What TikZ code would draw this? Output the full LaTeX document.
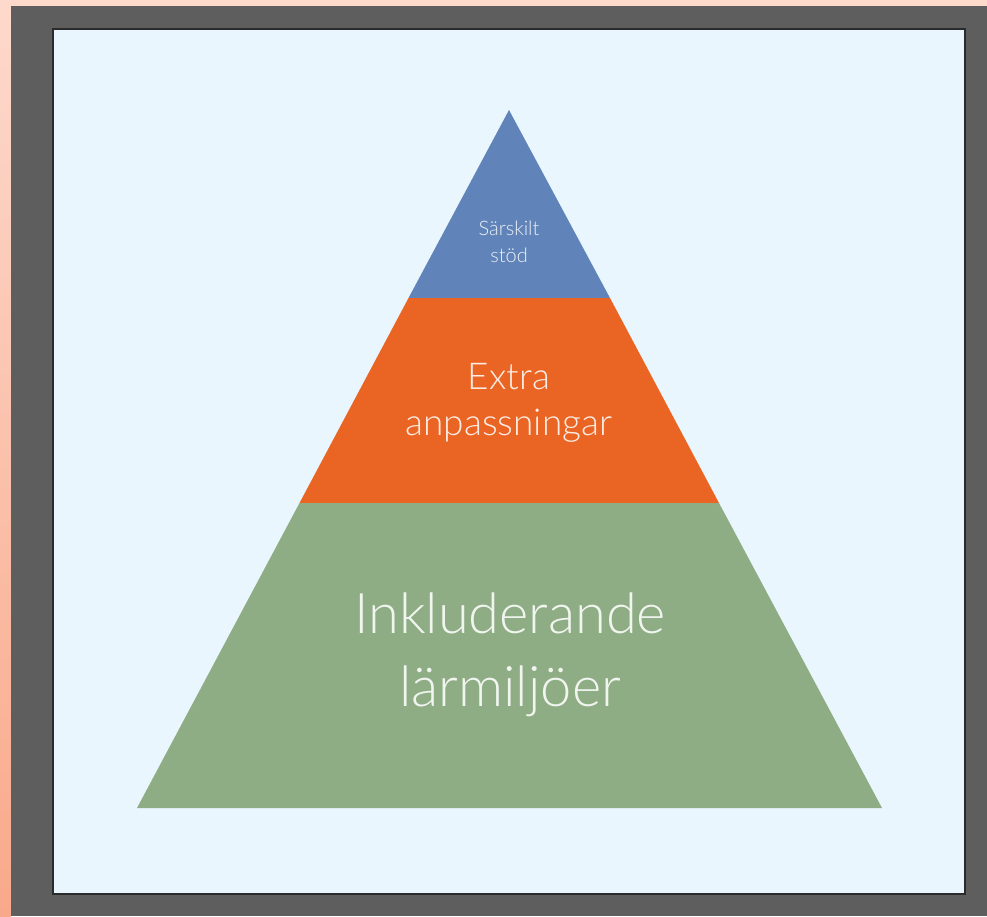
\documentclass[tikz,border=0pt]{standalone}
\usepackage{fontspec}
\setmainfont{Lato}[UprightFont=* Light]
\definecolor{salmonA}{HTML}{FDD9CC}
\definecolor{salmonB}{HTML}{F9A98B}
\definecolor{frame}{HTML}{5E5E5E}
\definecolor{panel}{HTML}{EAF6FE}
\definecolor{panelline}{HTML}{2B2B2B}
\definecolor{layerblue}{HTML}{6084B9}
\definecolor{layerorange}{HTML}{EA6524}
\definecolor{layergreen}{HTML}{8FAD84}
\begin{document}
\begin{tikzpicture}[x=1pt,y=-1pt,
  label/.style={text=white, text opacity=0.88, align=center, inner sep=0pt},
  layer/.style={draw=none}]
\useasboundingbox (0,0) rectangle (987,916);
% backdrop
\fill[salmonA] (0,0) rectangle (987,916);
\shade[top color=salmonA, bottom color=salmonB] (0,0) rectangle (11,916);
\fill[frame] (11,6) rectangle (987,916);
\fill[panel] (53,29) rectangle (965,894);
\draw[panelline, line width=2pt] (53,29) rectangle (965,894);
% pyramid coordinates
\coordinate (apex) at (509,110);
\coordinate (b1l) at (408.5,298);
\coordinate (b1r) at (610,298);
\coordinate (b2l) at (299.5,503);
\coordinate (b2r) at (719,503);
\coordinate (basel) at (137,808);
\coordinate (baser) at (882,808);
\fill[layer, layerblue] (apex) -- (b1r) -- (b1l) -- cycle;
\fill[layer, layerorange] (b1l) -- (b1r) -- (b2r) -- (b2l) -- cycle;
\fill[layer, layergreen] (b2l) -- (b2r) -- (baser) -- (basel) -- cycle;
% labels
\node[label, font=\fontsize{20}{27}\selectfont] (top) at (509,242) {Särskilt\\stöd};
\node[label, font=\fontsize{37}{46}\selectfont] (mid) at (509,403) {Extra\\anpassningar};
\node[label, font=\fontsize{56}{73}\selectfont] (bot) at (510,655) {Inkluderande\\lärmiljöer};
\end{tikzpicture}
\end{document}
